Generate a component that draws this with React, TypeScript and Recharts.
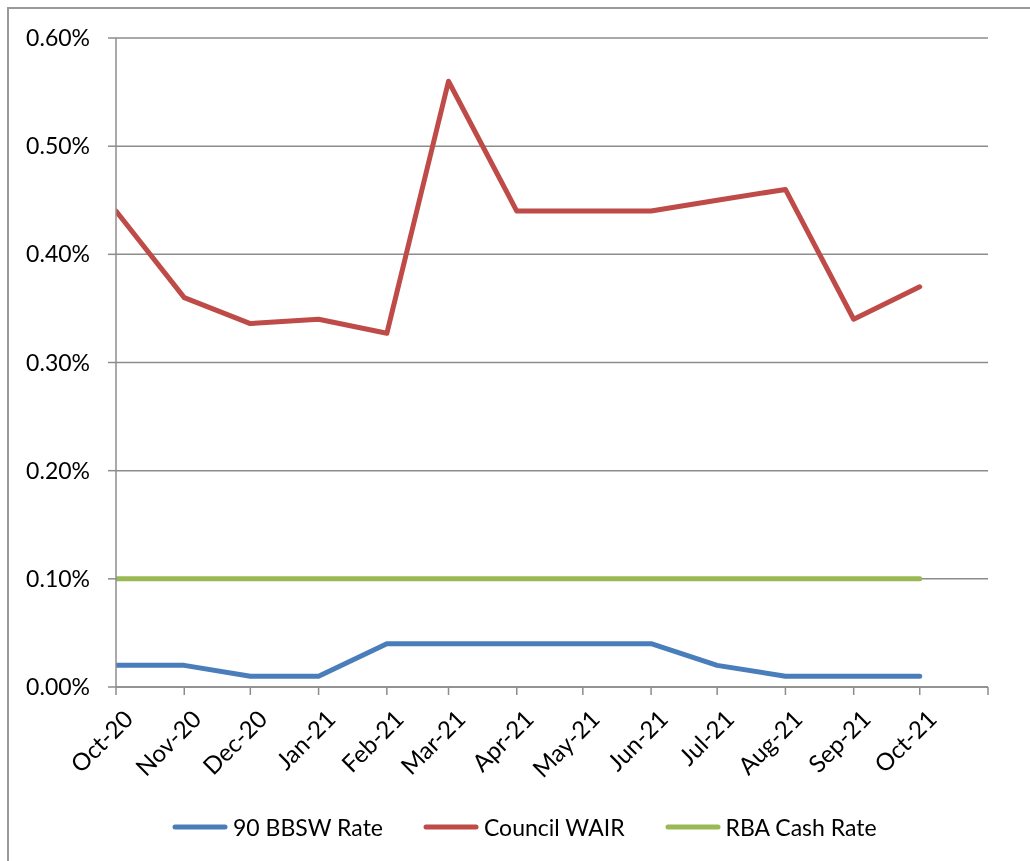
import React from 'react';
import { LineChart, Line, XAxis, YAxis, CartesianGrid, Legend } from 'recharts';

const months = ['2020-10-01','2020-11-01','2020-12-01','2021-01-01','2021-02-01','2021-03-01','2021-04-01','2021-05-01','2021-06-01','2021-07-01','2021-08-01','2021-09-01','2021-10-01'];
const tickDates = [...months, '2021-11-01'];
const tickLabels = ['Oct-20','Nov-20','Dec-20','Jan-21','Feb-21','Mar-21','Apr-21','May-21','Jun-21','Jul-21','Aug-21','Sep-21','Oct-21',''];
const bbsw = [0.02,0.02,0.01,0.01,0.04,0.04,0.04,0.04,0.04,0.02,0.01,0.01,0.01];
const wair = [0.44,0.36,0.336,0.34,0.327,0.56,0.44,0.44,0.44,0.45,0.46,0.34,0.37];
const rba = [0.10,0.10,0.10,0.10,0.10,0.10,0.10,0.10,0.10,0.10,0.10,0.10,0.10];
const yTicks = [0,0.1,0.2,0.3,0.4,0.5,0.6];

const seriesNames = ['90 BBSW Rate','Council WAIR','RBA Cash Rate'];
const seriesColors = ['#4A7EBB','#BE4B48','#98B954'];

const ts = (s: string) => Date.parse(s + 'T00:00:00Z');
const data = months.map((m, i) => ({ t: ts(m), bbsw: bbsw[i], wair: wair[i], rba: rba[i] }));
const ticks = tickDates.map(ts);

const FONT = 'Lato, "Open Sans", sans-serif';

const XTick = (props: any) => {
  const { x, y, payload } = props;
  const idx = ticks.indexOf(payload.value);
  const label = idx >= 0 ? tickLabels[idx] : '';
  return (
    <text
      transform={`translate(${x + 5},${y + 10}) rotate(-45)`}
      textAnchor="end"
      dominantBaseline="hanging"
      fontFamily={FONT}
      fontSize={24}
      fill="#000"
    >
      {label}
    </text>
  );
};

const LegendContent = () => (
  <div style={{ display: 'flex', alignItems: 'center', height: 40, fontFamily: FONT, fontSize: 23, color: '#000', paddingLeft: 172, transform: 'translateY(-14px)' }}>
    {seriesNames.map((n, i) => (
      <div key={n} style={{ display: 'flex', alignItems: 'center', marginRight: 40 }}>
        <svg width={56} height={10} style={{ marginRight: 5 }}>
          <line x1={3} y1={5} x2={53} y2={5} stroke={seriesColors[i]} strokeWidth={5} strokeLinecap="round" />
        </svg>
        <span>{n}</span>
      </div>
    ))}
  </div>
);

export default function App() {
  return (
    <>
      <div style={{ position: 'fixed', left: 7, top: 7, width: 1040, height: 880, border: '2px solid #9a9a9a', boxSizing: 'border-box' }} />
      <div style={{ position: 'fixed', left: 0, top: 0 }}>
        <LineChart width={1030} height={861} data={data} margin={{ top: 38, right: 42, left: 0, bottom: 0 }}>
          <CartesianGrid vertical={false} stroke="#8c8c8c" strokeWidth={1.5} />
          <XAxis
            dataKey="t"
            type="number"
            scale="time"
            domain={[ticks[0], ticks[ticks.length - 1]]}
            ticks={ticks}
            tick={<XTick />}
            tickSize={8}
            height={134}
            interval={0}
            stroke="#8c8c8c"
            strokeWidth={1.5}
            allowDataOverflow
          />
          <YAxis
            domain={[0, 0.6]}
            ticks={yTicks}
            tickFormatter={(v: number) => v.toFixed(2) + '%'}
            tick={{ fill: '#000', fontFamily: FONT, fontSize: 23 }}
            tickSize={8}
            tickMargin={18}
            width={116}
            stroke="#8c8c8c"
            strokeWidth={1.5}
            interval={0}
          />
          <Legend verticalAlign="bottom" content={<LegendContent />} wrapperStyle={{ left: 0, width: 1030 }} />
          <Line dataKey="bbsw" name={seriesNames[0]} stroke={seriesColors[0]} strokeWidth={5} dot={false} isAnimationActive={false} strokeLinecap="round" strokeLinejoin="round" />
          <Line dataKey="wair" name={seriesNames[1]} stroke={seriesColors[1]} strokeWidth={5} dot={false} isAnimationActive={false} strokeLinecap="round" strokeLinejoin="round" />
          <Line dataKey="rba" name={seriesNames[2]} stroke={seriesColors[2]} strokeWidth={5} dot={false} isAnimationActive={false} strokeLinecap="round" strokeLinejoin="round" />
        </LineChart>
      </div>
    </>
  );
}
